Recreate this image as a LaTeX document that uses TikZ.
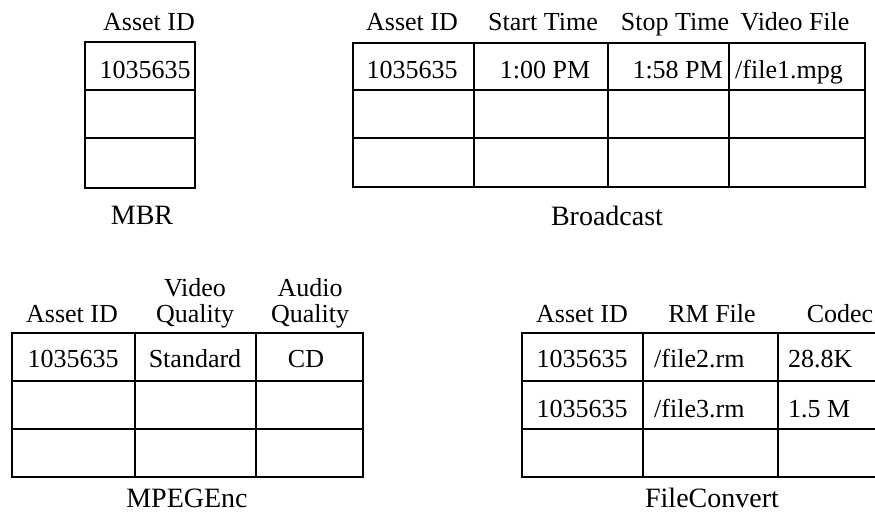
\documentclass[tikz,border=0pt]{standalone}
\usepackage{fontspec}
\setmainfont{Liberation Serif}
\begin{document}
\begin{tikzpicture}[x=1pt,y=-1pt,
  grid/.style={line width=1.6pt, black},
  txt/.style={inner sep=0pt, anchor=base, font=\fontsize{26}{26}\selectfont},
  txtl/.style={txt, anchor=base west},
  txtr/.style={txt, anchor=base east},
  caption/.style={inner sep=0pt, anchor=base, font=\fontsize{28}{28}\selectfont}]
\useasboundingbox (0,0) rectangle (875,515);

% ---- MBR ----
\draw[grid] (85,42) rectangle (195,188);
\draw[grid] (85,90) -- (195,90) (85,138) -- (195,138);
\node[txt] (mbrh) at (149,30) {Asset ID};
\node[txt] (mbra) at (145,78) {1035635};
\node[caption] (mbr) at (142,224) {MBR};

% ---- Broadcast ----
\draw[grid] (353,43) rectangle (865,187);
\draw[grid] (353,90) -- (865,90) (353,138) -- (865,138);
\draw[grid] (474,43) -- (474,187) (608,43) -- (608,187) (729,43) -- (729,187);
\node[txt] (bch1) at (412,30) {Asset ID};
\node[txt] (bch2) at (543,30) {Start Time};
\node[txt] (bch3) at (675,30) {Stop Time};
\node[txt] (bch4) at (795,30) {Video File};
\node[txt] (bca) at (412,78) {1035635};
\node[txt] (bcb) at (545,78) {1:00 PM};
\node[txtr] (bcc) at (723,78) {1:58 PM};
\node[txtl] (bcd) at (735,78) {/file1.mpg};
\node[caption] (bc) at (607,225) {Broadcast};

% ---- MPEGEnc ----
\draw[grid] (12,333) rectangle (363,477);
\draw[grid] (12,381) -- (363,381) (12,429) -- (363,429);
\draw[grid] (135,333) -- (135,477) (256,333) -- (256,477);
\node[txt] (mph1) at (72,322) {Asset ID};
\node[txt] (mph2a) at (195,296) {Video};
\node[txt] (mph2b) at (195,322) {Quality};
\node[txt] (mph3a) at (310,296) {Audio};
\node[txt] (mph3b) at (310,322) {Quality};
\node[txt] (mpa) at (73,367) {1035635};
\node[txt] (mpb) at (195,367) {Standard};
\node[txt] (mpc) at (306,367) {CD};
\node[caption] (mp) at (187,507) {MPEGEnc};

% ---- FileConvert ----
\draw[grid] (875,333) -- (522,333) -- (522,477) -- (875,477);
\draw[grid] (522,381) -- (875,381) (522,429) -- (875,429);
\draw[grid] (643,333) -- (643,477) (778,333) -- (778,477);
\node[txt] (fch1) at (582,322) {Asset ID};
\node[txt] (fch2) at (712,322) {RM File};
\node[txt] (fch3) at (840,322) {Codec};
\node[txt] (fca1) at (582,367) {1035635};
\node[txtl] (fcb1) at (654,367) {/file2.rm};
\node[txtl] (fcc1) at (788,367) {28.8K};
\node[txt] (fca2) at (582,417) {1035635};
\node[txtl] (fcb2) at (654,417) {/file3.rm};
\node[txtl] (fcc2) at (788,417) {1.5 M};
\node[caption] (fc) at (712,507) {FileConvert};
\end{tikzpicture}
\end{document}
